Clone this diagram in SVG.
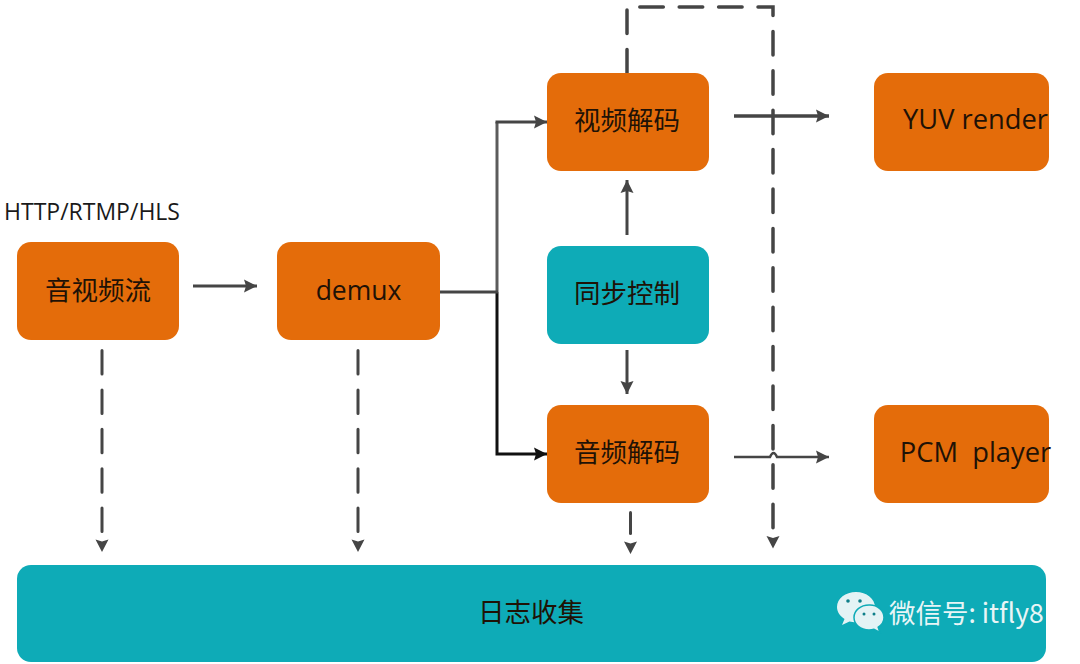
<svg xmlns="http://www.w3.org/2000/svg" width="1080" height="664" viewBox="0 0 1080 664">
<style>
.o{fill:#e46c0a}
.t{fill:#0eabb7}
.l{font-family:"Noto Sans CJK SC","Open Sans",sans-serif;font-size:26.500px;fill:#1f1206;text-anchor:middle}
.e{font-family:"Open Sans","Noto Sans CJK SC",sans-serif;fill:#1f1206;text-anchor:middle}
.c{fill:none;stroke:#454545;stroke-width:3}
.d{stroke-dasharray:23.500 15.900;stroke-linecap:round}
</style>
<defs>
<marker id="a" markerUnits="userSpaceOnUse" markerWidth="14" markerHeight="14" refX="13" refY="7" orient="auto"><path d="M0 .5L13 7L0 13.500L2 7Z" fill="#454545"/></marker>
<marker id="k" markerUnits="userSpaceOnUse" markerWidth="14" markerHeight="14" refX="13" refY="7" orient="auto"><path d="M0 .5L13 7L0 13.500L2 7Z" fill="#111"/></marker>
<marker id="g" markerUnits="userSpaceOnUse" markerWidth="14" markerHeight="14" refX="-8" refY="7" orient="auto" overflow="visible"><path d="M0 .5L12.500 7L0 13.500L2 7Z" fill="#454545"/></marker>
</defs>
<rect width="1080" height="664" fill="#fff"/>
<g id="connectors">
<path class="c" marker-end="url(#a)" d="M193 286H257"/>
<path class="c" style="stroke:#5c5c5c" d="M497 292V122"/>
<path class="c" marker-end="url(#a)" d="M495.500 122H547"/>
<path class="c" style="stroke:#111" marker-end="url(#k)" d="M497 292V454H547"/>
<path class="c" d="M438 292H498"/>
<path class="c" marker-end="url(#a)" d="M627 235V180"/>
<path class="c" marker-end="url(#a)" d="M627 350V394"/>
<path class="c" style="stroke-width:3.500" marker-end="url(#a)" d="M734 116H829"/>
<path class="c" style="stroke-width:2.500" marker-end="url(#a)" d="M734 457H770Q773.500 449 777 457H829"/>
<path class="c d" style="stroke-width:3.500" marker-end="url(#g)" d="M627 73V7H773V528"/>
<path class="c d" marker-end="url(#g)" d="M102 350.500V531.600"/>
<path class="c d" marker-end="url(#g)" d="M358 350.500V531.600"/>
<path class="c d" style="stroke-dasharray:none" marker-end="url(#g)" d="M630.500 512.500V533.500"/>
</g>
<g id="n-stream"><rect class="o" x="17" y="242" width="162" height="98" rx="14"/><text class="l" x="98" y="300">音视频流</text></g>
<g id="n-demux"><rect class="o" x="277" y="242" width="163" height="98" rx="14"/><text class="e" x="358.500" y="300" font-size="26.500">demux</text></g>
<g id="n-video"><rect class="o" x="547" y="73" width="162" height="98" rx="14"/><text class="l" x="627" y="130">视频解码</text></g>
<g id="n-sync"><rect class="t" x="547" y="246" width="162" height="98" rx="14"/><text class="l" x="627" y="303">同步控制</text></g>
<g id="n-audio"><rect class="o" x="547" y="405" width="162" height="98" rx="14"/><text class="l" x="627" y="462">音频解码</text></g>
<g id="n-yuv"><rect class="o" x="874" y="73" width="175" height="98" rx="14"/><text class="e" x="975.500" y="129" font-size="27.300">YUV render</text></g>
<g id="n-pcm"><rect class="o" x="874" y="405" width="175" height="98" rx="14"/><text class="e" x="975.500" y="462" font-size="27.300" xml:space="preserve">PCM  player</text></g>
<g id="n-log"><rect class="t" x="17" y="565" width="1029" height="97" rx="14"/><text class="l" x="531" y="622">日志收集</text></g>
<text x="4" y="220" font-family="Open Sans,sans-serif" font-size="23" fill="#1a1a1a">HTTP/RTMP/HLS</text>
<g id="watermark">
<path d="M856 592c-10.500 0-19 6.500-19 15 0 5 3 9 7.500 12l-2.500 6 7.500-3.500c2 .5 4 .8 6.500 .8 10.500 0 19-6.500 19-15s-8.500-15.300-19-15.300z" fill="#e4f3f5"/>
<path d="M869 605c-8.500 0-15 5.500-15 12.500s6.500 12.500 15 12.500c2 0 3.500-.2 5-.7l6 3.200-1.800-5.300c3.500-2.300 5.800-5.700 5.800-9.700 0-7-6.500-12.500-14-12.500z" fill="#e4f3f5" stroke="#0eabb7" stroke-width="1.500"/>
<circle cx="848" cy="601" r="1.800" fill="#0e7f8a"/><circle cx="860" cy="601" r="1.800" fill="#0e7f8a"/>
<circle cx="864" cy="614" r="1.500" fill="#0e7f8a"/><circle cx="874" cy="614" r="1.500" fill="#0e7f8a"/>
<text x="889" y="623" font-family="Noto Sans CJK SC,sans-serif" font-size="26.500" fill="#e8f5f6">微信号: itfly8</text>
</g>
</svg>
